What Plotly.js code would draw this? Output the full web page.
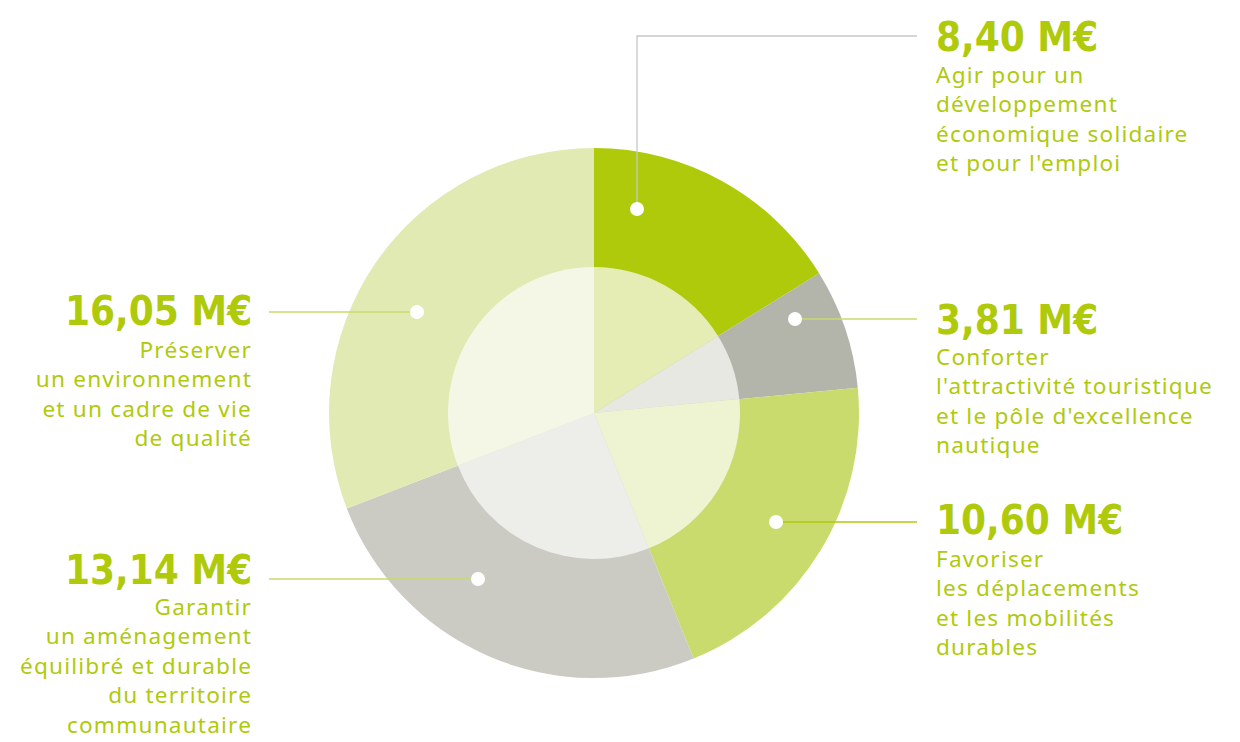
<!DOCTYPE html>
<html>
<head>
<meta charset="utf-8">
<script src="https://cdn.plot.ly/plotly-3.0.1.min.js"></script>
<style>
html,body{margin:0;padding:0;background:#fff;}
#chart{width:1240px;height:742px;}
</style>
<style id="descstyle"></style>
</head>
<body>
<div id="chart"></div>
<script>
// ---- data ----
const categories = [
  "Agir pour un développement économique solidaire et pour l'emploi",
  "Conforter l'attractivité touristique et le pôle d'excellence nautique",
  "Favoriser les déplacements et les mobilités durables",
  "Garantir un aménagement équilibré et durable du territoire communautaire",
  "Préserver un environnement et un cadre de vie de qualité"
];
const values = [8.40, 3.81, 10.60, 13.14, 16.05];
const valueLabels = ["8,40 M€", "3,81 M€", "10,60 M€", "13,14 M€", "16,05 M€"];
const descLines = [
  ["Agir pour un", "développement", "économique solidaire", "et pour l'emploi"],
  ["Conforter", "l'attractivité touristique", "et le pôle d'excellence", "nautique"],
  ["Favoriser", "les déplacements", "et les mobilités", "durables"],
  ["Garantir", "un aménagement", "équilibré et durable", "du territoire", "communautaire"],
  ["Préserver", "un environnement", "et un cadre de vie", "de qualité"]
];
const outerColors = ["#AFCA0B", "#B3B4AA", "#C9DB6C", "#CBCBC3", "#E1EAB2"];
const innerColors = ["#E5EDB5", "#E8E8E3", "#EEF3D2", "#EDEDEA", "#F4F7E6"];

// ---- layout helpers (pixels -> paper) ----
const W = 1240, H = 742;
const px = x => x / W;
const py = y => 1 - y / H;

const green = "#AFCA0B";
const valueFont = {family: "DejaVu Sans Condensed, Liberation Sans Narrow, sans-serif", size: 40, color: green, weight: 700};
const descSize = 22.6; // Plotly line spacing 1.3 -> ~29px, as in the reference
const descFont = {family: "Noto Sans, Open Sans, sans-serif", size: descSize, color: green};

// label placement: [anchorX, valueCenterY, firstLineCenterY, align]
const place = [
  [935, 37, 73, "left"],
  [935, 320, 355, "left"],
  [935, 520, 557, "left"],
  [253, 570, 605, "right"],
  [253, 311, 348, "right"]
];
// leader lines: polyline points (pixels), colour; dot position
const leaders = [
  {pts: [[637, 209], [637, 36], [917, 36]], color: "#C8C8C8", dot: [637, 209]},
  {pts: [[795, 319], [917, 319]], color: "#C9DB6C", dot: [795, 319]},
  {pts: [[776, 522], [917, 522]], color: "#AFCA0B", dot: [776, 522]},
  {pts: [[269, 579], [478, 579]], color: "#C9DB6C", dot: [478, 579]},
  {pts: [[269, 312], [417, 312]], color: "#C9DB6C", dot: [417, 312]}
];

const traces = [
  {
    type: "pie", values: values, labels: categories, sort: false, direction: "clockwise", rotation: 0,
    marker: {colors: outerColors, line: {width: 0}}, textinfo: "none", hoverinfo: "label+value",
    domain: {x: [px(329), px(859)], y: [py(678), py(148)]}, showlegend: false
  },
  {
    type: "pie", values: values, labels: categories, sort: false, direction: "clockwise", rotation: 0,
    marker: {colors: innerColors, line: {width: 0}}, textinfo: "none", hoverinfo: "label+value",
    domain: {x: [px(448), px(740)], y: [py(559), py(267)]}, showlegend: false
  }
];

const annotations = [];
const shapes = [];
const descIdx = [];
const lineH = descSize * 1.3;
for (let i = 0; i < values.length; i++) {
  const [ax, vy, ly, align] = place[i];
  annotations.push({
    xref: "paper", yref: "paper", x: px(ax), y: py(vy), xanchor: align, yanchor: "middle",
    text: "<b>" + valueLabels[i] + "</b>", showarrow: false, font: valueFont, align: align, borderpad: 0
  });
  descIdx.push(annotations.length);
  annotations.push({
    xref: "paper", yref: "paper", x: px(ax), y: py(ly - lineH / 2), xanchor: align, yanchor: "top",
    text: descLines[i].join("<br>"), showarrow: false, font: descFont, align: align, borderpad: 0
  });
  const L = leaders[i];
  let path = "M " + L.pts.map(p => px(p[0]) + "," + py(p[1])).join(" L ");
  shapes.push({type: "path", xref: "paper", yref: "paper", path: path, line: {color: L.color, width: 1.3}, layer: "above"});
  const r = 7;
  shapes.push({type: "circle", xref: "paper", yref: "paper",
    x0: px(L.dot[0] - r), x1: px(L.dot[0] + r), y0: py(L.dot[1] + r), y1: py(L.dot[1] - r),
    fillcolor: "#FFFFFF", line: {width: 0}, layer: "above"});
}
// slightly open letter spacing for the description texts only
document.getElementById("descstyle").textContent =
  descIdx.map(k => '.annotation[data-index="' + k + '"] .annotation-text').join(",") + "{letter-spacing:1.2px;}";

const layout = {
  width: W, height: H, margin: {l: 0, r: 0, t: 0, b: 0},
  paper_bgcolor: "#FFFFFF", plot_bgcolor: "#FFFFFF",
  showlegend: false, annotations: annotations, shapes: shapes
};
Plotly.newPlot("chart", traces, layout, {displayModeBar: false, staticPlot: true});
</script>
</body>
</html>
